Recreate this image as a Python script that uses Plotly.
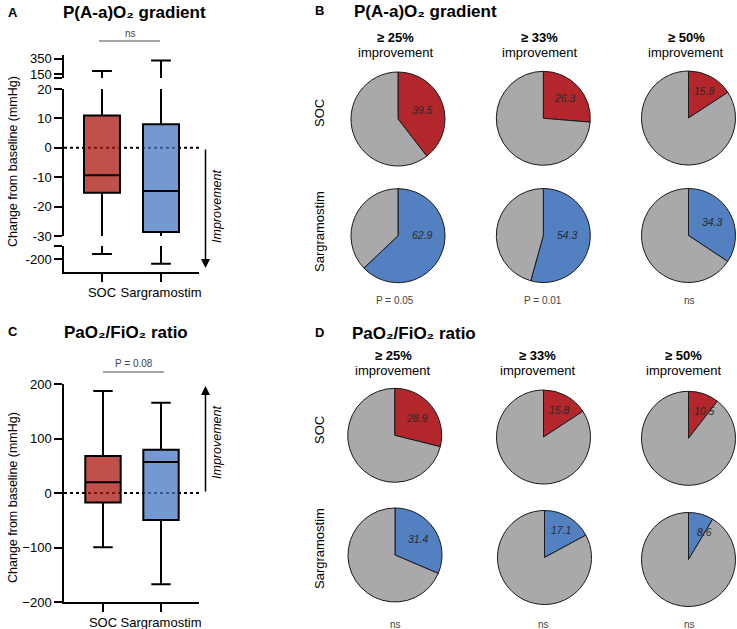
import math
import plotly.graph_objects as go

W, H = 737, 629
FONT = "Liberation Sans, Arial, sans-serif"


def px(x):
    return x / W


def py(y):
    return 1 - y / H


# ---------------- data ----------------
categories = ["SOC", "Sargramostim"]

# Panel A: change in P(A-a)O2 gradient (mmHg), box statistics
a_q1 = [-15.3, -28.6]
a_median = [-9.3, -14.7]
a_q3 = [11.0, 8.0]
a_lower = [-162, -236]
a_upper = [190, 327]
a_p = "ns"

# Panel C: change in PaO2/FiO2 ratio (mmHg), box statistics
c_q1 = [-17.5, -49.5]
c_median = [19.6, 57.0]
c_q3 = [68.0, 79.5]
c_lower = [-99.7, -167.6]
c_upper = [187.0, 165.7]
c_p = "P = 0.08"

# Pie panels: % of patients reaching the improvement threshold
thresholds = ["≥ 25%", "≥ 33%", "≥ 50%"]
b_soc = [39.5, 26.3, 15.8]
b_sarg = [62.9, 54.3, 34.3]
b_p = ["P = 0.05", "P = 0.01", "ns"]
d_soc = [28.9, 15.8, 10.5]
d_sarg = [31.4, 17.1, 8.6]
d_p = ["ns", "ns", "ns"]

# ---------------- styles ----------------
BOX_FILL = ["rgba(171,22,14,0.75)", "rgba(68,119,192,0.75)"]
PIE_RED = "#B2262C"
PIE_BLUE = "#5280C1"
PIE_GRAY = "#A9A8AA"

fig = go.Figure()

# Panel A broken axis segments: (yaxis name, pixel top, pixel bottom, range, tickvals, ticktext)
segA = [
    ("y3", 55, 78, [100, 400], [100, 150, 350], ["", "150", "350"]),
    ("y2", 89, 236, [-30, 20], [-30, -20, -10, 0, 10, 20], ["-30", "-20", "-10", "0", "10", "20"]),
    ("y", 246, 272, [-300, -100], [-100, -200], ["", "-200"]),
]

for yname, _, _, _, _, _ in segA:
    for i in range(2):
        fig.add_trace(go.Box(
            x=[i], q1=[a_q1[i]], median=[a_median[i]], q3=[a_q3[i]],
            lowerfence=[a_lower[i]], upperfence=[a_upper[i]],
            fillcolor=BOX_FILL[i], line=dict(color="black", width=2),
            width=0.61, whiskerwidth=0.55, boxpoints=False,
            xaxis="x", yaxis=yname, showlegend=False, hoverinfo="skip"))

for i in range(2):
    fig.add_trace(go.Box(
        x=[i], q1=[c_q1[i]], median=[c_median[i]], q3=[c_q3[i]],
        lowerfence=[c_lower[i]], upperfence=[c_upper[i]],
        fillcolor=BOX_FILL[i], line=dict(color="black", width=2),
        width=0.61, whiskerwidth=0.55, boxpoints=False,
        xaxis="x2", yaxis="y4", showlegend=False, hoverinfo="skip"))

axis_common = dict(showline=True, linecolor="black", linewidth=1.5, ticks="outside",
                   ticklen=8, tickwidth=1.5, tickcolor="black", showgrid=False,
                   zeroline=False, tickfont=dict(family=FONT, size=13, color="black"),
                   fixedrange=True, automargin=False)

layout = dict(
    width=W, height=H, autosize=False,
    margin=dict(l=0, r=0, t=0, b=0, pad=0),
    paper_bgcolor="white", plot_bgcolor="rgba(0,0,0,0)",
    boxmode="overlay", showlegend=False,
    font=dict(family=FONT, color="black"),
)

layout["xaxis"] = dict(axis_common, domain=[px(64), px(199)], range=[-0.644, 1.644],
                       tickvals=[0, 1], ticktext=categories, anchor="y")
layout["xaxis2"] = dict(axis_common, domain=[px(64), px(199)], range=[-0.672, 1.655],
                        tickvals=[0, 1], ticktext=categories, anchor="y4")
names = {"y": "yaxis", "y2": "yaxis2", "y3": "yaxis3"}
for yname, top, bot, rng, tv, tt in segA:
    layout[names[yname]] = dict(axis_common, domain=[py(bot), py(top)], range=rng,
                                tickvals=tv, ticktext=tt, anchor="x")
layout["yaxis4"] = dict(axis_common, domain=[py(602), py(384)], range=[-200, 200],
                        tickvals=[-200, -100, 0, 100, 200], anchor="x2")

# ---------------- pies ----------------
R = 47
pie_rows = [
    (b_soc, PIE_RED, [(398, 119), (543.3, 118.3), (688.5, 118)]),
    (b_sarg, PIE_BLUE, [(398, 235.7), (543.3, 235.5), (688.5, 235.5)]),
    (d_soc, PIE_RED, [(394.7, 435.3), (543.5, 437), (688.5, 438.3)]),
    (d_sarg, PIE_BLUE, [(395, 555), (544.5, 557.5), (688.5, 559.5)]),
]
annotations = []
for vals, col, centers in pie_rows:
    for v, (cx, cy) in zip(vals, centers):
        fig.add_trace(go.Pie(
            values=[v, 100 - v], sort=False, direction="clockwise", rotation=0,
            marker=dict(colors=[col, PIE_GRAY], line=dict(color="#1a1a1a", width=1)),
            textinfo="none", hoverinfo="skip", showlegend=False,
            domain=dict(x=[px(cx - R), px(cx + R)], y=[py(cy + R), py(cy - R)])))
        ang = min(max(v * 1.8, 30), 88)
        rf = 0.68 - 0.0028 * (ang - 28)
        tx = cx + rf * R * math.sin(math.radians(ang))
        ty = cy - rf * R * math.cos(math.radians(ang))
        annotations.append(dict(x=px(tx), y=py(ty), xref="paper", yref="paper",
                                xanchor="center", yanchor="middle",
                                text=f"<i>{v}</i>", showarrow=False,
                                font=dict(family=FONT, size=10.5, color="#2a2a2a")))


def txt(x, y, s, size=13, color="black", angle=0, xanchor="center"):
    annotations.append(dict(x=px(x), y=py(y), xref="paper", yref="paper", text=s,
                            showarrow=False, textangle=angle, xanchor=xanchor,
                            yanchor="middle",
                            font=dict(family=FONT, size=size, color=color)))


# panel letters and titles
txt(6, 12, "<b>A</b>", 13, xanchor="left")
txt(134, 12, "<b>P(A-a)O₂ gradient</b>", 17)
txt(6, 331, "<b>C</b>", 13, xanchor="left")
txt(126, 332, "<b>PaO₂/FiO₂ ratio</b>", 17)
txt(313, 10, "<b>B</b>", 13, xanchor="left")
txt(425, 11, "<b>P(A-a)O₂ gradient</b>", 17)
txt(313, 332, "<b>D</b>", 13, xanchor="left")
txt(414, 333, "<b>PaO₂/FiO₂ ratio</b>", 17)

# axis titles
txt(13, 162, "Change from baseline (mmHg)", 12.5, angle=-90)
txt(13, 498, "Change from baseline (mmHg)", 12.5, angle=-90)

# improvement labels
txt(217, 207, "<i>Improvement</i>", 12.5, angle=-90)
txt(217, 443, "<i>Improvement</i>", 12.5, angle=-90)

# significance
txt(130, 33, a_p, 10, color="#444")
txt(134, 363, c_p, 10, color="#444")

# pie column headers
for t, x in zip(thresholds, [395.5, 539.7, 686]):
    txt(x, 37.5, f"<b>{t}</b>", 13)
    txt(x, 53, "improvement", 13)
for t, x in zip(thresholds, [393, 537.5, 683.8]):
    txt(x, 355.8, f"<b>{t}</b>", 13)
    txt(x, 370, "improvement", 13)

# row labels
txt(319, 113, "SOC", 13, angle=-90)
txt(319, 232, "Sargramostim", 13, angle=-90)
txt(319, 430, "SOC", 13, angle=-90)
txt(319, 549, "Sargramostim", 13, angle=-90)

# p-values under pies
for p, x in zip(b_p, [395, 543, 689]):
    txt(x, 300, p, 10, color="#444")
for p, x in zip(d_p, [395, 543, 689]):
    txt(x, 624, p, 10, color="#444")

# arrows (head position in paper coords, tail offset in pixels)
annotations.append(dict(x=px(205.5), y=py(268), ax=0, ay=148 - 268,
                        xref="paper", yref="paper", axref="pixel", ayref="pixel",
                        text="", showarrow=True, arrowhead=2, arrowsize=1.2,
                        arrowwidth=1.5, arrowcolor="black"))
annotations.append(dict(x=px(205.5), y=py(386), ax=0, ay=493 - 386,
                        xref="paper", yref="paper", axref="pixel", ayref="pixel",
                        text="", showarrow=True, arrowhead=2, arrowsize=1.2,
                        arrowwidth=1.5, arrowcolor="black"))

layout["annotations"] = annotations

shapes = [
    # dotted zero lines
    dict(type="line", xref="paper", yref="y2", x0=px(64), x1=px(200), y0=0, y1=0,
         line=dict(color="black", width=2, dash="dot"), layer="below"),
    dict(type="line", xref="paper", yref="y4", x0=px(64), x1=px(200), y0=0, y1=0,
         line=dict(color="black", width=2, dash="dot"), layer="below"),
    # significance brackets
    dict(type="line", xref="paper", yref="paper", x0=px(99), x1=px(160), y0=py(41), y1=py(41),
         line=dict(color="#888", width=1.5)),
    dict(type="line", xref="paper", yref="paper", x0=px(103), x1=px(164), y0=py(372), y1=py(372),
         line=dict(color="#888", width=1.5)),
]
layout["shapes"] = shapes

fig.update_layout(**layout)
fig.write_html(
    "out.html",
    config={"displayModeBar": False},
    post_script="document.body.style.margin='0';document.body.style.overflow='hidden';",
)
